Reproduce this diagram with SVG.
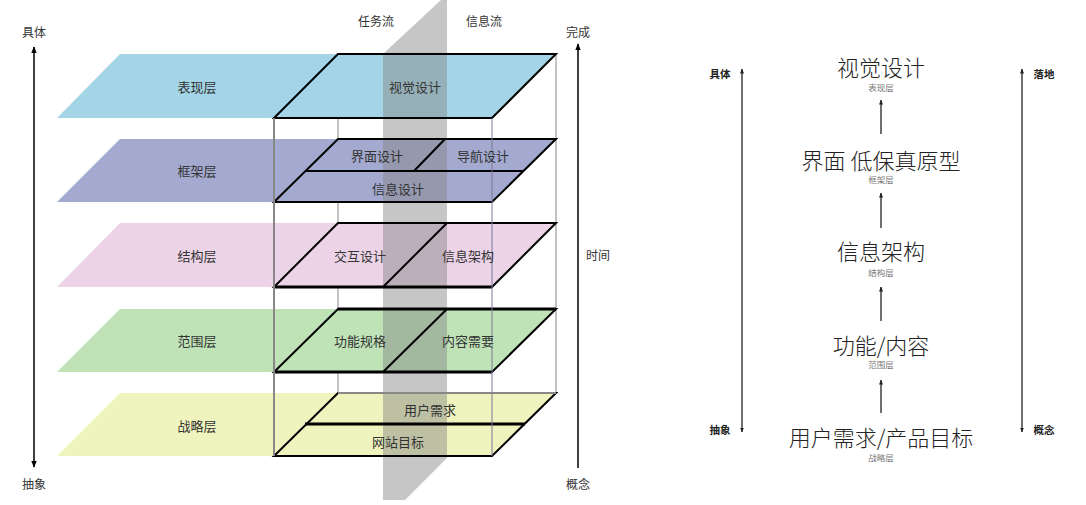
<svg xmlns="http://www.w3.org/2000/svg" width="1086" height="505" viewBox="0 0 1086 505">
<defs>
<marker id="ah" viewBox="0 0 10 10" refX="9" refY="5" markerWidth="7" markerHeight="7" orient="auto-start-reverse" markerUnits="userSpaceOnUse"><path d="M0,1 L10,5 L0,9 z" fill="#000"/></marker>
<marker id="ahs" viewBox="0 0 10 10" refX="9" refY="5" markerWidth="5" markerHeight="5" orient="auto-start-reverse" markerUnits="userSpaceOnUse"><path d="M0,1 L10,5 L0,9 z" fill="#222"/></marker>
<style>
text{font-family:"Noto Sans CJK SC","Liberation Sans",sans-serif;text-anchor:middle;dominant-baseline:central}
.lbl{font-size:13px;fill:#333}
.ax{font-size:12px;fill:#333}
.edge{fill:none;stroke:#000;stroke-width:2;stroke-linejoin:miter}
.thick{stroke:#000;stroke-width:3}
.big{font-size:22px;fill:#222;font-weight:300}
.sub{font-size:8.5px;fill:#777}
.rax{font-size:10.5px;font-weight:bold;fill:#222}
.conn{stroke:#222;stroke-width:1.3;fill:none}
</style>
</defs>
<rect width="1086" height="505" fill="#fff"/>

<!-- back box lines -->
<g id="box-back" stroke="#999" stroke-width="1.2">
<line x1="338" y1="54" x2="338" y2="393"/>
<line x1="556" y1="54" x2="556" y2="393"/>
</g>

<!-- layer fills -->
<g id="layer-biaoxian">
<polygon points="120,54 556,54 492,118 57,118" fill="#a3d5e6"/>
</g>
<g id="layer-kuangjia">
<polygon points="120,139 556,139 492,202 57,202" fill="#a3a9cf"/>
</g>
<g id="layer-jiegou">
<polygon points="120,223 556,223 492,287 57,287" fill="#ecd3e8"/>
</g>
<g id="layer-fanwei">
<polygon points="120,309 556,309 492,372 57,372" fill="#bfe3b7"/>
</g>
<g id="layer-zhanlue">
<polygon points="120,393 556,393 492,456 57,456" fill="#eff3bd"/>
</g>

<!-- gray flow plane -->
<g id="flow-plane">
<polygon points="441,0 447,0 447,458 405,500 383,500 383,54 383,54" fill="#888" fill-opacity="0.48"/>
</g>

<!-- box outlines -->
<g id="box-outlines">
<polygon class="edge" points="338,54 556,54 492,118 274,118"/>
<polygon class="edge" points="338,139 556,139 492,202 274,202"/>
<line class="edge" x1="305" y1="171" x2="524" y2="171"/>
<line class="edge" x1="445" y1="139" x2="414" y2="171"/>
<polygon class="edge" points="338,223 556,223 492,287 274,287"/>
<line class="thick" x1="274" y1="287" x2="492" y2="287"/>
<line class="edge" x1="447" y1="223" x2="383" y2="287"/>
<polygon class="edge" points="338,309 556,309 492,372 274,372"/>
<line class="thick" x1="274" y1="372" x2="492" y2="372"/>
<line class="thick" x1="338" y1="309" x2="556" y2="309"/>
<line class="edge" x1="447" y1="309" x2="383" y2="372"/>
<polygon class="edge" points="338,393 556,393 492,456 274,456" style="stroke:#000"/>
<line x1="338" y1="393" x2="556" y2="393" stroke="#888" stroke-width="2"/>
<line class="thick" x1="305" y1="424" x2="525" y2="424"/>
</g>

<!-- front box lines -->
<g id="box-front">
<line x1="274" y1="118" x2="274" y2="456" stroke="#888" stroke-width="2"/>
<line x1="492" y1="118" x2="492" y2="456" stroke="#7a7a9a" stroke-width="1"/>
</g>

<!-- labels of left diagram -->
<g id="left-labels">
<text class="lbl" x="197" y="86">表现层</text>
<text class="lbl" x="197" y="170">框架层</text>
<text class="lbl" x="197" y="255">结构层</text>
<text class="lbl" x="197" y="340">范围层</text>
<text class="lbl" x="197" y="425">战略层</text>
<text class="lbl" x="415" y="86">视觉设计</text>
<text class="lbl" x="377" y="155">界面设计</text>
<text class="lbl" x="483" y="155">导航设计</text>
<text class="lbl" x="398" y="188">信息设计</text>
<text class="lbl" x="360" y="255">交互设计</text>
<text class="lbl" x="468" y="255">信息架构</text>
<text class="lbl" x="360" y="340">功能规格</text>
<text class="lbl" x="468" y="340">内容需要</text>
<text class="lbl" x="430" y="409">用户需求</text>
<text class="lbl" x="398" y="441">网站目标</text>
<text class="ax" x="376" y="20">任务流</text>
<text class="ax" x="484" y="20">信息流</text>
<text class="ax" x="34" y="31">具体</text>
<text class="ax" x="34" y="483">抽象</text>
<text class="ax" x="578" y="31">完成</text>
<text class="ax" x="578" y="483">概念</text>
<text class="ax" x="598" y="254">时间</text>
</g>

<!-- connectors -->
<g id="connectors">
<line x1="34" y1="47" x2="34" y2="467" stroke="#000" stroke-width="1.5" marker-start="url(#ah)" marker-end="url(#ah)"/>
<line x1="578" y1="468" x2="578" y2="44" stroke="#000" stroke-width="1.5" marker-end="url(#ah)"/>
<line class="conn" x1="742" y1="69" x2="742" y2="432" marker-start="url(#ahs)" marker-end="url(#ahs)"/>
<line class="conn" x1="1022" y1="69" x2="1022" y2="432" marker-start="url(#ahs)" marker-end="url(#ahs)"/>
<line class="conn" x1="881" y1="134" x2="881" y2="100" marker-end="url(#ahs)"/>
<line class="conn" x1="881" y1="228" x2="881" y2="193" marker-end="url(#ahs)"/>
<line class="conn" x1="881" y1="321" x2="881" y2="287" marker-end="url(#ahs)"/>
<line class="conn" x1="881" y1="413" x2="881" y2="380" marker-end="url(#ahs)"/>
</g>

<!-- right diagram nodes -->
<g id="node-visual"><text class="big" x="881" y="66">视觉设计</text><text class="sub" x="881" y="87">表现层</text></g>
<g id="node-interface"><text class="big" x="881" y="159">界面 低保真原型</text><text class="sub" x="881" y="179">框架层</text></g>
<g id="node-ia"><text class="big" x="881" y="250">信息架构</text><text class="sub" x="881" y="272">结构层</text></g>
<g id="node-scope"><text class="big" x="881" y="344">功能/内容</text><text class="sub" x="881" y="364">范围层</text></g>
<g id="node-strategy"><text class="big" x="881" y="436">用户需求/产品目标</text><text class="sub" x="881" y="457">战略层</text></g>
<g id="right-axis-labels">
<text class="rax" x="720" y="73">具体</text>
<text class="rax" x="720" y="429">抽象</text>
<text class="rax" x="1044" y="73">落地</text>
<text class="rax" x="1044" y="429">概念</text>
</g>
</svg>
